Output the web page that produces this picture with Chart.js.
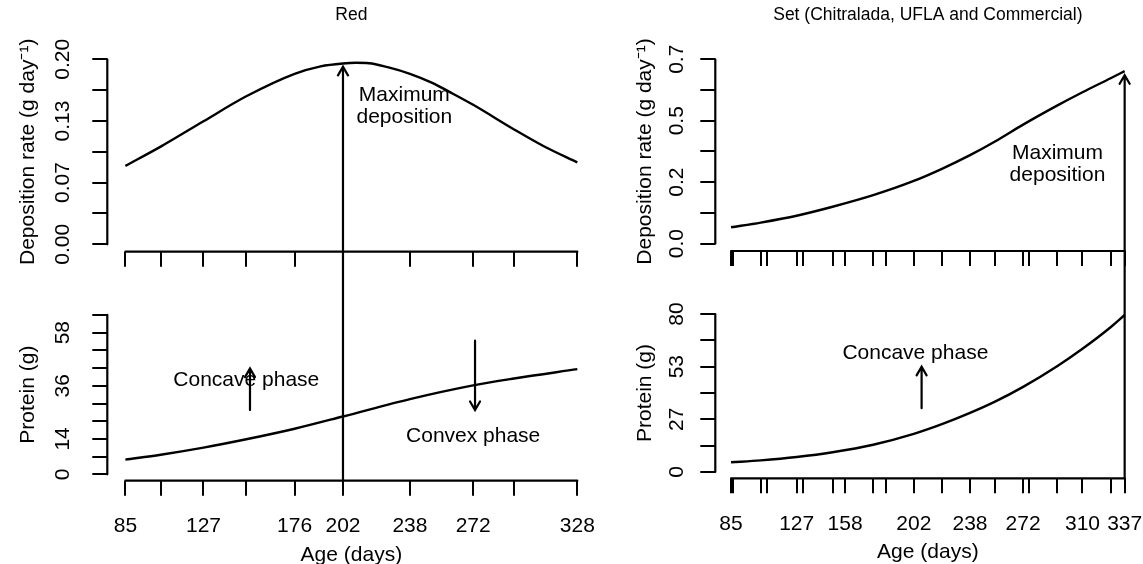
<!DOCTYPE html>
<html>
<head>
<meta charset="utf-8">
<script src="https://cdn.jsdelivr.net/npm/chart.js@4.4.1/dist/chart.umd.min.js"></script>
<style>
  html, body { margin: 0; padding: 0; background: #fff; }
  #page { position: relative; width: 1143px; height: 564px; overflow: hidden; }
  canvas { position: absolute; }
</style>
</head>
<body>
<div id="page">
  <canvas id="redRateChart" width="600" height="290" style="left:0;top:0"></canvas>
  <canvas id="redProteinChart" width="600" height="274" style="left:0;top:290px"></canvas>
  <canvas id="setRateChart" width="543" height="290" style="left:600px;top:0"></canvas>
  <canvas id="setProteinChart" width="543" height="274" style="left:600px;top:290px"></canvas>
</div>
<script>
// Red: deposition rate and protein by age
const redRateAge = [85, 104, 127, 150, 176, 190, 202, 209, 216, 226, 238, 250, 260, 272, 294, 310, 328];
const redRate = [0.0848, 0.1056, 0.133, 0.160, 0.1843, 0.1924, 0.1955, 0.1962, 0.1958, 0.1915, 0.1843, 0.1745, 0.164, 0.1508, 0.1242, 0.106, 0.0885];
const redProteinAge = [85, 104, 127, 150, 176, 202, 238, 272, 294, 328];
const redProtein = [6.0, 8.0, 10.9, 14.3, 18.6, 23.6, 30.7, 36.3, 39.1, 42.9];

// Set (Chitralada, UFLA and Commercial)
const setAge = [85, 104, 127, 150, 176, 202, 220, 238, 254, 272, 294, 310, 328, 337];
const setRate = [0.062, 0.080, 0.106, 0.140, 0.184, 0.238, 0.284, 0.336, 0.388, 0.452, 0.525, 0.575, 0.628, 0.655];
const setProtein = [4.9, 5.9, 7.6, 10.0, 13.8, 19.3, 24.2, 29.9, 35.6, 43.1, 53.7, 62.4, 73.3, 79.5];

// ticks
const redAgeTicks = [85, 104, 127, 150, 176, 202, 238, 272, 294, 328];
const redAgeLabels = [85, 127, 176, 202, 238, 272, 328];
const setAgeTicks = [85, 86, 104, 108, 127, 131, 150, 158, 176, 184, 202, 220, 238, 254, 272, 276, 294, 310, 328, 337];
const setAgeLabels = [85, 127, 158, 202, 238, 272, 310, 337];

const redRateTicks = [0, 0.0333, 0.0667, 0.1, 0.1333, 0.1667, 0.2];
const redRateLabels = ["0.00", "", "0.07", "", "0.13", "", "0.20"];
const redProteinTicks = [0, 7.22, 14.44, 21.67, 28.89, 36.11, 43.33, 50.56, 57.78, 65];
const redProteinLabels = ["0", "", "14", "", "", "36", "", "", "58", ""];
const setRateTicks = [0, 0.1167, 0.2333, 0.35, 0.4667, 0.5833, 0.7];
const setRateLabels = ["0.0", "", "0.2", "", "0.5", "", "0.7"];
const setProteinTicks = [0, 13.33, 26.67, 40, 53.33, 66.67, 80];
const setProteinLabels = ["0", "", "27", "", "53", "", "80"];

Chart.defaults.font.family = "'Liberation Sans', Arial, sans-serif";
Chart.defaults.font.size = 21;
Chart.defaults.color = "#000";

// R-like axis lines, arrows and text notes
const rStyle = {
  id: "rStyle",
  afterDraw(chart, args, opts) {
    const ctx = chart.ctx;
    const area = chart.chartArea;
    const xs = chart.scales.x;
    const ys = chart.scales.y;
    const xt = xs.ticks;
    const yt = ys.ticks;
    const pos = (v) => {
      if (v === "areaBottom") return area.bottom;
      if (v === "canvasTop") return 0;
      if (v === "canvasBottom") return chart.height;
      return ys.getPixelForValue(v);
    };
    ctx.save();
    ctx.strokeStyle = "#000";
    ctx.fillStyle = "#000";
    ctx.lineWidth = 2.2;
    ctx.lineCap = "round";
    ctx.beginPath();
    ctx.moveTo(xs.getPixelForValue(xt[0].value), area.bottom);
    ctx.lineTo(xs.getPixelForValue(xt[xt.length - 1].value), area.bottom);
    ctx.moveTo(area.left, ys.getPixelForValue(yt[0].value));
    ctx.lineTo(area.left, ys.getPixelForValue(yt[yt.length - 1].value));
    ctx.stroke();

    (opts.arrows || []).forEach((a) => {
      const px = xs.getPixelForValue(a.x);
      const p0 = pos(a.from);
      const p1 = pos(a.to);
      ctx.beginPath();
      ctx.moveTo(px, p0);
      ctx.lineTo(px, p1);
      if (a.head) {
        const dir = p1 < p0 ? -1 : 1;
        const len = 10;
        const dx = len * Math.sin(Math.PI / 6);
        const dy = len * Math.cos(Math.PI / 6);
        ctx.moveTo(px - dx, p1 - dir * dy);
        ctx.lineTo(px, p1);
        ctx.lineTo(px + dx, p1 - dir * dy);
      }
      ctx.stroke();
    });

    ctx.font = "21px 'Liberation Sans', Arial";
    ctx.textAlign = "center";
    ctx.textBaseline = "middle";
    (opts.texts || []).forEach((t) => {
      const px = xs.getPixelForValue(t.x);
      const py = ys.getPixelForValue(t.y);
      const step = 22;
      const top = py - (step * (t.lines.length - 1)) / 2;
      t.lines.forEach((line, i) => ctx.fillText(line, px, top + i * step));
    });
    ctx.restore();
  },
};

function panel(id, cfg) {
  const xlo = cfg.xTicks[0], xhi = cfg.xTicks[cfg.xTicks.length - 1];
  const ylo = cfg.yTicks[0], yhi = cfg.yTicks[cfg.yTicks.length - 1];
  return new Chart(document.getElementById(id), {
    type: "line",
    data: {
      datasets: [
        {
          data: cfg.ages.map((a, i) => ({ x: a, y: cfg.values[i] })),
          borderColor: "#000",
          borderWidth: 2.4,
          pointRadius: 0,
          cubicInterpolationMode: "monotone",
          fill: false,
        },
      ],
    },
    options: {
      responsive: false,
      animation: false,
      events: [],
      layout: { padding: cfg.padding },
      plugins: {
        legend: { display: false },
        tooltip: { enabled: false },
        title: cfg.title
          ? { display: true, fullSize: false, text: cfg.title, color: "#000", font: { size: 17.5, weight: "normal" }, padding: { top: 4.5, bottom: 26.4 } }
          : { display: false },
        rStyle: { arrows: cfg.arrows, texts: cfg.texts },
      },
      scales: {
        x: {
          type: "linear",
          bounds: "data",
          min: xlo - 0.04 * (xhi - xlo),
          max: xhi + 0.04 * (xhi - xlo),
          afterBuildTicks: (s) => { s.ticks = cfg.xTicks.map((v) => ({ value: v })); },
          afterFit: (s) => { s.height = cfg.xHeight; s.paddingLeft = 0; s.paddingRight = 0; },
          grid: { drawOnChartArea: false, drawTicks: true, tickLength: 15, color: "#000", lineWidth: 2 },
          border: { display: false },
          ticks: {
            display: cfg.xLabelsShown,
            autoSkip: false,
            maxRotation: 0,
            padding: 18.3,
            callback: (v) => (cfg.xLabels.includes(v) ? String(v) : ""),
          },
          title: { display: cfg.xLabelsShown, text: "Age (days)", font: { size: 21, lineHeight: 0.86 }, padding: { top: 0, bottom: cfg.xTitlePad } },
        },
        y: {
          bounds: "data",
          min: ylo - 0.04 * (yhi - ylo),
          max: yhi + 0.04 * (yhi - ylo),
          afterBuildTicks: (s) => { s.ticks = cfg.yTicks.map((v) => ({ value: v })); },
          afterFit: (s) => { s.width = cfg.yWidth; s.paddingTop = 0; s.paddingBottom = 0; },
          grid: { drawOnChartArea: false, drawTicks: true, tickLength: 15, color: "#000", lineWidth: 2 },
          border: { display: false },
          ticks: {
            autoSkip: false,
            minRotation: 90,
            maxRotation: 90,
            crossAlign: "center",
            padding: cfg.yTickPad,
            callback: (v, i) => cfg.yLabels[i],
          },
          title: { display: true, text: cfg.yTitle, font: { size: 21 }, padding: { top: cfg.yTitlePad, bottom: 0 } },
        },
      },
    },
    plugins: [rStyle],
  });
}

// Red, deposition rate
panel("redRateChart", {
  title: "Red",
  ages: redRateAge, values: redRate,
  xTicks: redAgeTicks, xLabels: redAgeLabels, xLabelsShown: false, xHeight: 38.3, xTitlePad: 0,
  yTicks: redRateTicks, yLabels: redRateLabels, yTitle: "Deposition rate (g day⁻¹)",
  yWidth: 107.3, yTickPad: 8.9, yTitlePad: 15.4,
  padding: { left: 0, right: 4.6, top: 0, bottom: 0 },
  arrows: [{ x: 202, from: "canvasBottom", to: 0.192, head: true }],
  texts: [{ x: 235, y: 0.1497, lines: ["Maximum", "deposition"] }],
});

// Red, protein
panel("redProteinChart", {
  title: null,
  ages: redProteinAge, values: redProtein,
  xTicks: redAgeTicks, xLabels: redAgeLabels, xLabelsShown: true, xHeight: 83.3, xTitlePad: 0,
  yTicks: redProteinTicks, yLabels: redProteinLabels, yTitle: "Protein (g)",
  yWidth: 107.3, yTickPad: 17.6, yTitlePad: 15.4,
  padding: { left: 0, right: 4.6, top: 18.6, bottom: 0 },
  arrows: [
    { x: 202, from: "areaBottom", to: "canvasTop", head: false },
    { x: 152, from: 26.2, to: 43.2, head: true },
    { x: 273, from: 54.5, to: 26.2, head: true },
  ],
  texts: [
    { x: 150, y: 38.4, lines: ["Concave phase"] },
    { x: 272, y: 15.5, lines: ["Convex phase"] },
  ],
});

// Set, deposition rate
panel("setRateChart", {
  title: "Set (Chitralada, UFLA and Commercial)",
  ages: setAge, values: setRate,
  xTicks: setAgeTicks, xLabels: setAgeLabels, xLabelsShown: false, xHeight: 39, xTitlePad: 0,
  yTicks: setRateTicks, yLabels: setRateLabels, yTitle: "Deposition rate (g day⁻¹)",
  yWidth: 115.3, yTickPad: 8.7, yTitlePad: 32.4,
  padding: { left: 0, right: 2.6, top: 0, bottom: 0 },
  arrows: [{ x: 337, from: "canvasBottom", to: 0.64, head: true }],
  texts: [{ x: 294, y: 0.300, lines: ["Maximum", "deposition"] }],
});

// Set, protein
panel("setProteinChart", {
  title: null,
  ages: setAge, values: setProtein,
  xTicks: setAgeTicks, xLabels: setAgeLabels, xLabelsShown: true, xHeight: 85.7, xTitlePad: 3,
  yTicks: setProteinTicks, yLabels: setProteinLabels, yTitle: "Protein (g)",
  yWidth: 115.3, yTickPad: 11.6, yTitlePad: 32.4,
  padding: { left: 0, right: 2.6, top: 17.7, bottom: 0 },
  arrows: [
    { x: 337, from: "areaBottom", to: "canvasTop", head: false },
    { x: 207, from: 32.3, to: 53.3, head: true },
  ],
  texts: [{ x: 203, y: 60.3, lines: ["Concave phase"] }],
});
</script>
</body>
</html>
